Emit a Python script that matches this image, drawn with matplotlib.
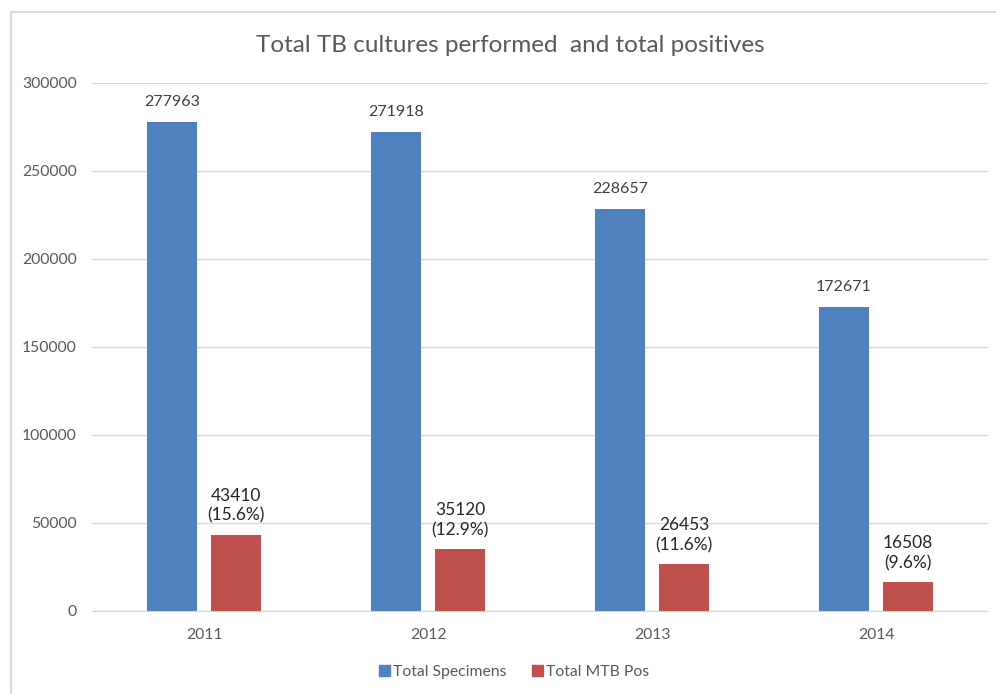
import matplotlib
matplotlib.use("Agg")
import matplotlib.pyplot as plt
import numpy as np
from matplotlib.patches import Patch
from matplotlib.lines import Line2D

years = ["2011", "2012", "2013", "2014"]
total_specimens = [277963, 271918, 228657, 172671]
total_mtb_pos = [43410, 35120, 26453, 16508]
pos_pct = ["15.6%", "12.9%", "11.6%", "9.6%"]

plt.rcParams['font.family'] = ['Lato', 'DejaVu Sans']

blue = "#4f81bd"
red = "#c0504d"
grey = "#595959"

fig = plt.figure(figsize=(9.96, 6.94), dpi=100)
# 图表区域边框（左、上）
fig.add_artist(Line2D([11/996, 11/996], [0, 1 - 12/694], transform=fig.transFigure, color="#d9d9d9", lw=1.5))
fig.add_artist(Line2D([11/996, 1], [1 - 12/694, 1 - 12/694], transform=fig.transFigure, color="#d9d9d9", lw=1.5))

ax = fig.add_axes([92/996, 83/694, 896/996, 528/694])
x = np.arange(len(years))
w = 0.223
off = 0.143
ax.bar(x - off, total_specimens, w, color=blue, label="Total Specimens", zorder=3)
ax.bar(x + off, total_mtb_pos, w, color=red, label="Total MTB Pos", zorder=3)

for i in range(len(years)):
    ax.annotate(str(total_specimens[i]), (x[i] - off, total_specimens[i]), xytext=(0, 13),
                textcoords="offset pixels", ha="center", va="bottom", fontsize=11.5, color="#404040")
    ax.annotate(str(total_mtb_pos[i]) + "\n(" + pos_pct[i] + ")", (x[i] + off, total_mtb_pos[i]), xytext=(0, 11),
                textcoords="offset pixels", ha="center", va="bottom", fontsize=12.5, color="#262626",
                linespacing=1.3)

ax.set_xlim(-0.5, 3.5)
ax.set_ylim(0, 300000)
ax.set_yticks(range(0, 300001, 50000))
ax.set_xticks(x)
ax.set_xticklabels(years)
ax.yaxis.grid(True, color="#d9d9d9", lw=1, zorder=0)
for s in ["top", "right", "left"]:
    ax.spines[s].set_visible(False)
ax.spines["bottom"].set_color("#d9d9d9")
ax.tick_params(axis="both", length=0, colors=grey, labelsize=11.3)
ax.tick_params(axis="y", pad=11)
ax.tick_params(axis="x", pad=12)

fig.text(510/996, 1 - 45/694, "Total TB cultures performed  and total positives", ha="center", va="center",
         fontsize=17.5, color=grey)

handles = [Patch(color=blue), Patch(color=red)]
fig.legend(handles, ["Total Specimens", "Total MTB Pos"], loc="center", bbox_to_anchor=(514/996, 1 - 672/694),
           ncol=2, frameon=False, fontsize=11.3, handlelength=0.7, handleheight=0.7, handletextpad=0.2,
           columnspacing=1.6, labelcolor=grey)

fig.savefig("out.png", dpi=100)
